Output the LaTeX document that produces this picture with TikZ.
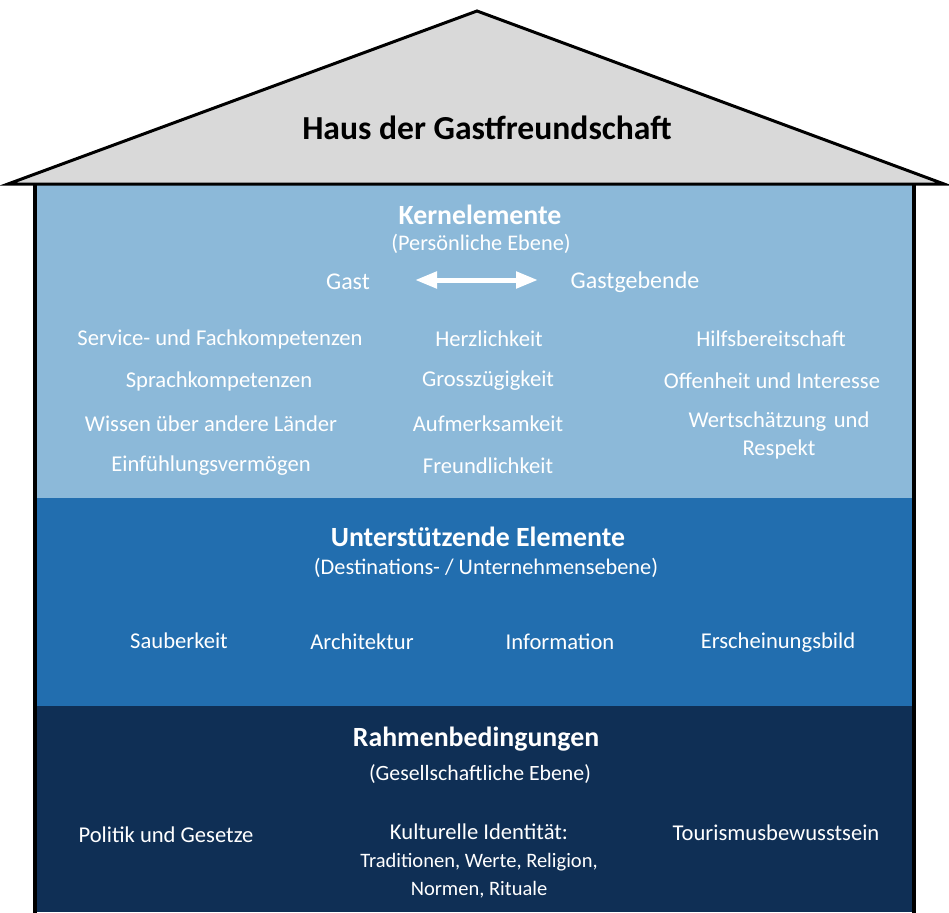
\documentclass[tikz,border=0pt]{standalone}
\usepackage{fontspec}
\setmainfont{Carlito}
\usetikzlibrary{arrows.meta}
\definecolor{roofgrey}{HTML}{D9D9D9}
\definecolor{lightblue}{HTML}{8CB9D9}
\definecolor{midblue}{HTML}{226EAF}
\definecolor{darkblue}{HTML}{0F2F55}
\tikzset{
  hdr/.style={text=white, font=\bfseries\fontsize{27.8}{32}\selectfont},
  sub/.style={text=white, font=\fontsize{22.3}{26}\selectfont},
  item/.style={text=white, font=\fontsize{22.6}{28}\selectfont, align=center},
  big/.style={text=white, font=\fontsize{24}{28}\selectfont},
  small/.style={text=white, font=\fontsize{20.5}{24}\selectfont},
}
\begin{document}
\begin{tikzpicture}[x=1pt, y=-1pt]
\useasboundingbox (0,0) rectangle (949,912);
% layers
\fill[lightblue] (35,184) rectangle (914,498);
\fill[midblue] (35,498) rectangle (914,706);
\fill[darkblue] (35,706) rectangle (914,912);
% walls
\draw[line width=3.5pt] (35,184) -- (35,913);
\draw[line width=3.5pt] (914,184) -- (914,913);
% roof
\draw[line width=3pt, fill=roofgrey, line join=miter] (8,184) -- (477,11) -- (944,184) -- cycle;
\node[font=\bfseries\fontsize{33.6}{38}\selectfont] (title) at (487,128) {Haus der Gastfreundschaft};
% Kernelemente
\node[hdr] (kern) at (480,215) {Kernelemente};
\node[sub] (kernsub) at (481,244) {(Persönliche Ebene)};
\node[big] (gast) at (348,282) {Gast};
\node[big] (geber) at (635,282) {Gastgebende};
\coordinate (al) at (415,280);
\coordinate (ar) at (538,280);
\draw[white, line width=5pt, {Triangle[length=22pt,width=16pt]}-{Triangle[length=22pt,width=16pt]}] (al) -- (ar);
\node[item] (l1) at (220,339) {Service- und Fachkompetenzen};
\node[item] (l2) at (219,381) {Sprachkompetenzen};
\node[item] (l3) at (211,424) {Wissen über andere Länder};
\node[item] (l4) at (211,466) {Einfühlungsvermögen};
\node[item] (m1) at (489,339) {Herzlichkeit};
\node[item] (m2) at (488,381) {Grosszügigkeit};
\node[item] (m3) at (488,424) {Aufmerksamkeit};
\node[item] (m4) at (488,466) {Freundlichkeit};
\node[item] (r1) at (771,339) {Hilfsbereitschaft};
\node[item] (r2) at (772,381) {Offenheit und Interesse};
\node[item, text width=240pt] (r3) at (779,435) {Wertschätzung und\\Respekt};
% Unterstützende Elemente
\node[hdr] (unt) at (478,537) {Unterstützende Elemente};
\node[sub] (untsub) at (486,568) {(Destinations- / Unternehmensebene)};
\node[item] (u1) at (179,641) {Sauberkeit};
\node[item] (u2) at (362,642) {Architektur};
\node[item] (u3) at (560,642) {Information};
\node[item] (u4) at (778,643) {Erscheinungsbild};
% Rahmenbedingungen
\node[hdr] (rahm) at (476,739) {Rahmenbedingungen};
\node[sub, font=\fontsize{21.8}{26}\selectfont] (rahmsub) at (480,774) {(Gesellschaftliche Ebene)};
\node[item] (b1) at (166,835) {Politik und Gesetze};
\node[item] (b2) at (479,832) {Kulturelle Identität:};
\node[small] (b3) at (479,862) {Traditionen, Werte, Religion,};
\node[small] (b4) at (479,890) {Normen, Rituale};
\node[item] (b5) at (776,833) {Tourismusbewusstsein};
\end{tikzpicture}
\end{document}
